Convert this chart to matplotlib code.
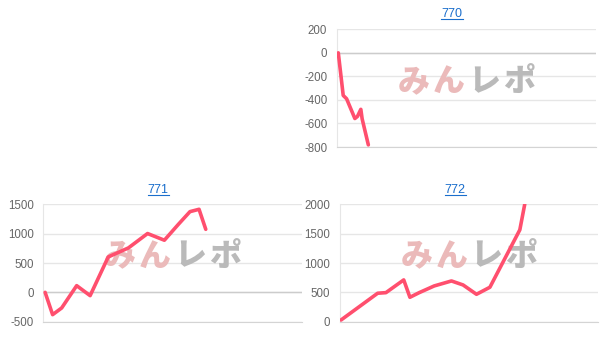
import matplotlib
matplotlib.use('Agg')
import matplotlib.pyplot as plt
from matplotlib.lines import Line2D

W, H = 609, 344

# machine 770
x770 = [0.5, 2.4, 3.7, 6.9, 7.9, 9.2, 9.7, 12.1]
y770 = [0, -362, -390, -558, -540, -480, -560, -782]

# machine 771
x771 = [0.7, 3.6, 7.1, 12.9, 18.1, 25.1, 32.9, 40.3, 46.8, 52.2, 56.7, 60.2, 62.8]
y771 = [0, -380, -266, 114, -56, 603, 757, 1002, 888, 1158, 1375, 1415, 1074]

# machine 772
x772 = [0.4, 14.6, 17.8, 24.7, 27.1, 30.7, 36.5, 43.2, 47.7, 52.9, 58.1, 69.7, 71.6]
y772 = [29, 485, 495, 712, 416, 495, 609, 694, 626, 467, 587, 1565, 2000]

yt770 = [200, 0, -200, -400, -600, -800]
yt771 = [1500, 1000, 500, 0, -500]
yt772 = [2000, 1500, 1000, 500, 0]

wm_chars = ['み', 'ん', 'レ', 'ポ']
wm_colors = ['#ebbaba', '#ebbaba', '#bababa', '#bababa']

LINE = '#ff4f6e'
LINK = '#1a6ecc'
GRID = '#e6e6e6'
TICK = '#666666'

plt.rcParams['font.family'] = ['Liberation Sans', 'DejaVu Sans']

fig = plt.figure(figsize=(W / 100, H / 100), dpi=100)


def add_panel(box, title_pos, name, xs, ys, yticks):
    left, top, right, bottom = box
    ax = fig.add_axes([left / W, 1 - bottom / H, (right - left) / W, (bottom - top) / H])
    ax.set_xlim(0, 100)
    ax.set_ylim(min(yticks), max(yticks))
    ax.set_yticks(yticks)
    ax.set_yticklabels([str(v) for v in yticks])
    ax.set_xticks([])
    ax.tick_params(axis='y', length=0, pad=7, labelsize=8.3, labelcolor=TICK)
    ax.grid(axis='y', color=GRID, lw=1)
    ax.set_axisbelow(True)
    for s in ('top', 'right'):
        ax.spines[s].set_visible(False)
    ax.spines['left'].set_color(GRID)
    ax.spines['bottom'].set_color('#d4d4d4')
    if min(yticks) < 0:
        ax.axhline(0, color='#cccccc', lw=1, zorder=1)

    # watermark, one glyph at a time to spread it out
    w_px = right - left
    for i, (ch, col) in enumerate(zip(wm_chars, wm_colors)):
        off = (-52.5 + 35 * i) / w_px
        ax.text(0.5 + off, 0.56, ch, transform=ax.transAxes, ha='center', va='center',
                fontsize=23, fontweight='black', color=col,
                family=['Noto Sans CJK JP'], zorder=1)

    ax.plot(xs, ys, color=LINE, lw=2.6, solid_joinstyle='round',
            solid_capstyle='round', zorder=3)

    tx, ty = title_pos
    fig.text(tx / W, 1 - ty / H, name, ha='center', va='baseline',
             color=LINK, fontsize=9)
    fig.add_artist(Line2D([(tx - 10.5) / W, (tx + 10.5) / W],
                          [1 - (ty + 1.8) / H] * 2, color=LINK, lw=0.8))
    return ax


add_panel((337, 29.3, 596, 147), (452, 16.7), '770', x770, y770, yt770)
add_panel((43.3, 204.3, 302, 321.7), (158, 192.7), '771', x771, y771, yt771)
add_panel((340, 204.3, 598, 321.7), (455, 192.7), '772', x772, y772, yt772)

fig.savefig('out.png', dpi=100)
